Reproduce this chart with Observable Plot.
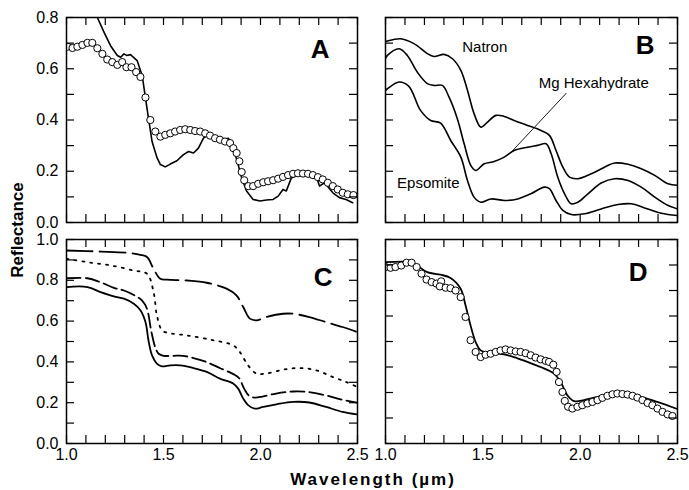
<!DOCTYPE html>
<html><head><meta charset="utf-8">
<script src="https://cdn.jsdelivr.net/npm/d3@7"></script>
<script src="https://cdn.jsdelivr.net/npm/@observablehq/plot@0.6"></script>
<style>
body{margin:0;background:#fff;}
#wrap{position:relative;width:689px;height:490px;background:#fff;font-family:"Liberation Sans",Arial,Helvetica,sans-serif;overflow:hidden;}
#wrap svg{position:absolute;}
.ylab{position:absolute;left:18px;top:230px;transform:translate(-50%,-50%) rotate(-90deg);font-weight:bold;font-size:17px;white-space:nowrap;}
.xlab{position:absolute;left:373px;top:480px;transform:translate(-50%,-50%);font-weight:bold;font-size:17px;letter-spacing:2px;white-space:nowrap;}
</style></head><body><div id="wrap"></div>
<script>
// ---------- tick values ----------
const xTicks = [1.0,1.1,1.2,1.3,1.4,1.5,1.6,1.7,1.8,1.9,2.0,2.1,2.2,2.3,2.4,2.5];
const xLabelTicks = [1.0,1.5,2.0,2.5];
const yTicks08 = [0,0.1,0.2,0.3,0.4,0.5,0.6,0.7,0.8];
const yLabelTicks08 = [0,0.2,0.4,0.6,0.8];
const yTicks10 = [0,0.1,0.2,0.3,0.4,0.5,0.6,0.7,0.8,0.9,1.0];
const yLabelTicks10 = [0,0.2,0.4,0.6,0.8,1.0];

// ---------- panel A ----------
const aModel = [[1.13,0.85],[1.159,0.80],[1.195,0.74],[1.227,0.69],[1.262,0.652],[1.279,0.645],[1.296,0.658],[1.31,0.652],[1.33,0.655],[1.364,0.632],[1.39,0.574],[1.415,0.445],[1.441,0.316],[1.467,0.252],[1.484,0.226],[1.509,0.217],[1.535,0.228],[1.569,0.241],[1.603,0.265],[1.629,0.277],[1.655,0.271],[1.68,0.29],[1.706,0.329],[1.732,0.342],[1.757,0.335],[1.791,0.329],[1.817,0.326],[1.834,0.329],[1.86,0.29],[1.88,0.239],[1.903,0.174],[1.928,0.123],[1.962,0.09],[1.997,0.084],[2.031,0.088],[2.065,0.09],[2.091,0.103],[2.116,0.129],[2.133,0.123],[2.159,0.174],[2.202,0.187],[2.253,0.187],[2.287,0.181],[2.304,0.142],[2.33,0.155],[2.373,0.116],[2.407,0.097],[2.441,0.09],[2.475,0.077]];
const aObs = [[1.005,0.686],[1.031,0.681],[1.056,0.686],[1.082,0.693],[1.108,0.701],[1.133,0.701],[1.159,0.68],[1.185,0.658],[1.21,0.636],[1.236,0.626],[1.262,0.615],[1.287,0.626],[1.309,0.606],[1.335,0.606],[1.359,0.587],[1.381,0.568],[1.407,0.488],[1.432,0.4],[1.458,0.355],[1.484,0.335],[1.509,0.342],[1.535,0.348],[1.56,0.355],[1.586,0.361],[1.612,0.364],[1.638,0.361],[1.663,0.357],[1.689,0.355],[1.715,0.348],[1.74,0.339],[1.766,0.329],[1.791,0.323],[1.817,0.316],[1.843,0.31],[1.86,0.29],[1.877,0.271],[1.891,0.239],[1.903,0.197],[1.916,0.165],[1.937,0.142],[1.962,0.142],[1.988,0.151],[2.014,0.157],[2.039,0.161],[2.065,0.165],[2.091,0.171],[2.116,0.178],[2.142,0.185],[2.168,0.19],[2.193,0.192],[2.219,0.191],[2.245,0.19],[2.27,0.185],[2.296,0.177],[2.321,0.168],[2.347,0.155],[2.373,0.142],[2.398,0.129],[2.424,0.116],[2.45,0.11],[2.479,0.107]];

// ---------- panel B ----------
const bNatron = [[1.0,0.705],[1.01,0.708],[1.077,0.717],[1.146,0.698],[1.215,0.659],[1.249,0.648],[1.301,0.656],[1.344,0.639],[1.387,0.594],[1.421,0.516],[1.455,0.425],[1.49,0.372],[1.524,0.392],[1.567,0.418],[1.61,0.414],[1.661,0.398],[1.73,0.379],[1.799,0.359],[1.842,0.34],[1.876,0.281],[1.911,0.216],[1.945,0.177],[1.988,0.171],[2.057,0.19],[2.125,0.216],[2.177,0.232],[2.246,0.227],[2.314,0.21],[2.383,0.184],[2.452,0.151],[2.5,0.145]];
const bMgHexa = [[1.0,0.64],[1.01,0.652],[1.07,0.678],[1.112,0.652],[1.163,0.587],[1.215,0.542],[1.249,0.535],[1.292,0.535],[1.326,0.49],[1.369,0.405],[1.404,0.307],[1.438,0.223],[1.464,0.203],[1.507,0.229],[1.558,0.238],[1.61,0.255],[1.661,0.281],[1.73,0.294],[1.782,0.301],[1.825,0.307],[1.851,0.268],[1.885,0.177],[1.92,0.112],[1.954,0.073],[1.988,0.079],[2.04,0.112],[2.108,0.154],[2.177,0.171],[2.246,0.164],[2.314,0.138],[2.383,0.099],[2.452,0.066],[2.5,0.053]];
const bEpsomite = [[1.0,0.515],[1.01,0.522],[1.07,0.548],[1.12,0.531],[1.18,0.4375],[1.232,0.398],[1.283,0.388],[1.335,0.32],[1.387,0.255],[1.421,0.164],[1.455,0.099],[1.49,0.079],[1.541,0.092],[1.61,0.086],[1.679,0.092],[1.747,0.112],[1.816,0.138],[1.842,0.132],[1.876,0.086],[1.911,0.047],[1.954,0.031],[2.022,0.034],[2.108,0.053],[2.194,0.07],[2.263,0.073],[2.331,0.057],[2.417,0.036],[2.5,0.027]];
const bLabels = [{w:1.51,r:0.685,t:"Natron"},{w:2.07,r:0.542,t:"Mg Hexahydrate"},{w:1.22,r:0.154,t:"Epsomite"}];
const bLeader = [[1.928,0.504],[1.644,0.273]];

// ---------- panel C ----------
const cLongDash = [[1.0,0.946],[1.176,0.941],[1.313,0.935],[1.381,0.925],[1.415,0.914],[1.449,0.856],[1.483,0.808],[1.518,0.803],[1.62,0.799],[1.723,0.788],[1.825,0.759],[1.876,0.726],[1.911,0.669],[1.945,0.612],[1.979,0.604],[2.03,0.62],[2.116,0.636],[2.167,0.636],[2.252,0.62],[2.338,0.595],[2.423,0.571],[2.5,0.546]];
const cDotted = [[1.0,0.905],[1.108,0.889],[1.227,0.873],[1.347,0.848],[1.415,0.832],[1.449,0.742],[1.466,0.628],[1.492,0.555],[1.518,0.543],[1.62,0.53],[1.757,0.506],[1.859,0.481],[1.893,0.449],[1.936,0.383],[1.979,0.343],[2.03,0.343],[2.116,0.362],[2.201,0.37],[2.287,0.359],[2.372,0.326],[2.44,0.302],[2.5,0.277]];
const cDash = [[1.0,0.81],[1.108,0.81],[1.176,0.79],[1.244,0.763],[1.296,0.75],[1.347,0.728],[1.39,0.70],[1.415,0.66],[1.437,0.55],[1.458,0.47],[1.475,0.44],[1.5,0.43],[1.55,0.43],[1.6,0.43],[1.65,0.42],[1.72,0.40],[1.79,0.37],[1.86,0.34],[1.89,0.32],[1.915,0.27],[1.94,0.235],[1.97,0.225],[2.01,0.23],[2.08,0.245],[2.17,0.255],[2.25,0.252],[2.34,0.235],[2.42,0.215],[2.5,0.2]];
const cSolid = [[1.0,0.767],[1.108,0.767],[1.176,0.742],[1.244,0.721],[1.296,0.71],[1.347,0.685],[1.381,0.653],[1.407,0.595],[1.424,0.498],[1.441,0.432],[1.466,0.392],[1.492,0.378],[1.535,0.383],[1.586,0.383],[1.654,0.37],[1.723,0.351],[1.791,0.318],[1.859,0.294],[1.885,0.269],[1.911,0.22],[1.936,0.188],[1.97,0.171],[2.013,0.179],[2.082,0.192],[2.167,0.204],[2.252,0.201],[2.338,0.179],[2.423,0.155],[2.5,0.142]];

// ---------- panel D ----------
const dModel = [[1.0,0.711],[1.129,0.711],[1.163,0.698],[1.214,0.672],[1.283,0.662],[1.334,0.649],[1.386,0.607],[1.411,0.542],[1.437,0.463],[1.463,0.398],[1.489,0.365],[1.523,0.356],[1.591,0.352],[1.66,0.339],[1.729,0.32],[1.797,0.3],[1.866,0.274],[1.9,0.241],[1.934,0.189],[1.969,0.166],[2.02,0.17],[2.089,0.183],[2.157,0.196],[2.226,0.196],[2.311,0.183],[2.397,0.163],[2.5,0.135]];
const dObs = [[1.0,0.692],[1.026,0.689],[1.051,0.692],[1.081,0.698],[1.108,0.709],[1.134,0.709],[1.16,0.692],[1.185,0.666],[1.211,0.643],[1.237,0.633],[1.262,0.627],[1.286,0.636],[1.279,0.616],[1.309,0.611],[1.334,0.609],[1.36,0.6],[1.386,0.574],[1.411,0.496],[1.437,0.405],[1.463,0.359],[1.489,0.339],[1.514,0.348],[1.54,0.352],[1.566,0.359],[1.591,0.365],[1.617,0.369],[1.643,0.365],[1.669,0.361],[1.694,0.359],[1.72,0.354],[1.746,0.346],[1.771,0.337],[1.797,0.33],[1.823,0.324],[1.84,0.32],[1.862,0.309],[1.879,0.281],[1.891,0.241],[1.909,0.202],[1.921,0.167],[1.938,0.144],[1.96,0.137],[1.986,0.144],[2.011,0.15],[2.037,0.157],[2.063,0.163],[2.089,0.17],[2.114,0.179],[2.14,0.187],[2.166,0.193],[2.191,0.196],[2.217,0.194],[2.243,0.192],[2.269,0.187],[2.294,0.18],[2.32,0.17],[2.346,0.159],[2.371,0.15],[2.397,0.137],[2.423,0.124],[2.449,0.114],[2.474,0.108]];

// ---------- layout ----------
const FONT = "Liberation Sans, Arial, Helvetica, sans-serif";
const TICK = 8;
const wrap = document.getElementById("wrap");

function panel({fx, fy, fw, fh, pad, yMax, yT, yL, xL, letter, ldx, ldy, marks}) {
  const tx = TICK * 1.5 / fw, ty = TICK * yMax / fh;
  const svg = Plot.plot({
    width: fw + pad[0] + pad[2],
    height: fh + pad[1] + pad[3],
    marginLeft: pad[0], marginTop: pad[1], marginRight: pad[2], marginBottom: pad[3],
    style: {fontFamily: FONT, fontSize: "16px", background: "transparent", color: "black", overflow: "visible"},
    x: xL ? {domain: [1, 2.5], ticks: xLabelTicks, tickSize: 0, tickPadding: 5, tickFormat: d3.format(".1f"), label: null}
          : {domain: [1, 2.5], axis: null},
    y: yL ? {domain: [0, yMax], ticks: yL, tickSize: 0, tickPadding: 8, tickFormat: d3.format(".1f"), label: null}
          : {domain: [0, yMax], axis: null},
    marks: [
      ...marks,
      Plot.ruleX(xTicks, {x: d => d, y1: yMax, y2: yMax - ty, stroke: "black", strokeWidth: 1.2}),
      Plot.ruleX(xTicks, {x: d => d, y1: 0, y2: ty, stroke: "black", strokeWidth: 1.2}),
      Plot.ruleY(yT, {y: d => d, x1: 1, x2: 1 + tx, stroke: "black", strokeWidth: 1.2}),
      Plot.ruleY(yT, {y: d => d, x1: 2.5, x2: 2.5 - tx, stroke: "black", strokeWidth: 1.2}),
      Plot.frame({stroke: "black", strokeWidth: 1.5}),
      Plot.text([letter], {text: d => d, frameAnchor: "top-right", dx: ldx, dy: ldy, fontSize: 26, fontWeight: "bold", fill: "black"})
    ]
  });
  svg.style.left = (fx - pad[0]) + "px";
  svg.style.top = (fy - pad[1]) + "px";
  wrap.appendChild(svg);
}

const lineOpt = {x: d => d[0], y: d => d[1], stroke: "black", strokeWidth: 1.6, clip: true};
const dotOpt = {x: d => d[0], y: d => d[1], r: 3.6, fill: "white", stroke: "black", strokeWidth: 1, clip: true};

panel({fx: 66, fy: 17, fw: 291, fh: 205, pad: [66, 17, 8, 8], yMax: 0.8, yT: yTicks08, yL: yLabelTicks08, xL: false, letter: "A", ldx: -28, ldy: 22,
  marks: [Plot.line(aModel, lineOpt), Plot.dot(aObs, dotOpt)]});

panel({fx: 385, fy: 17, fw: 292, fh: 205, pad: [8, 17, 8, 8], yMax: 0.8, yT: yTicks08, yL: null, xL: false, letter: "B", ldx: -23, ldy: 18,
  marks: [
    Plot.line(bNatron, {...lineOpt, curve: "catmull-rom"}),
    Plot.line(bMgHexa, {...lineOpt, curve: "catmull-rom"}),
    Plot.line(bEpsomite, {...lineOpt, curve: "catmull-rom"}),
    Plot.line(bLeader, {x: d => d[0], y: d => d[1], stroke: "black", strokeWidth: 0.9}),
    Plot.text(bLabels, {x: "w", y: "r", text: "t", fontSize: 15, fill: "black"})
  ]});

panel({fx: 66, fy: 239, fw: 291, fh: 204, pad: [66, 8, 8, 24], yMax: 1.0, yT: yTicks10, yL: yLabelTicks10, xL: true, letter: "C", ldx: -25, ldy: 28,
  marks: [
    Plot.line(cLongDash, {...lineOpt, strokeWidth: 1.8, strokeDasharray: "26,7", curve: "catmull-rom"}),
    Plot.line(cDotted, {...lineOpt, strokeWidth: 1.8, strokeDasharray: "2,6", curve: "catmull-rom"}),
    Plot.line(cDash, {...lineOpt, strokeWidth: 1.8, strokeDasharray: "14,5", curve: "catmull-rom"}),
    Plot.line(cSolid, {...lineOpt, strokeWidth: 1.8, curve: "catmull-rom"})
  ]});

panel({fx: 385, fy: 239, fw: 292, fh: 204, pad: [8, 8, 8, 24], yMax: 0.8, yT: yTicks08, yL: null, xL: true, letter: "D", ldx: -30, ldy: 23,
  marks: [Plot.line(dModel, {...lineOpt, strokeWidth: 1.8, curve: "catmull-rom"}), Plot.dot(dObs, dotOpt)]});

const yl = document.createElement("div"); yl.className = "ylab"; yl.textContent = "Reflectance"; wrap.appendChild(yl);
const xl = document.createElement("div"); xl.className = "xlab"; xl.textContent = "Wavelength (\u00b5m)"; wrap.appendChild(xl);
</script>
</body></html>
